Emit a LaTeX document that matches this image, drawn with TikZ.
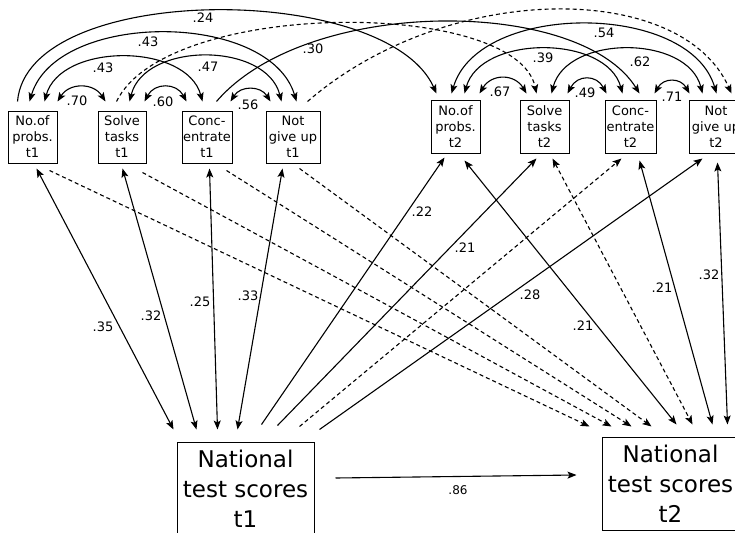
\documentclass[tikz,border=0pt]{standalone}
\usepackage{fontspec}
\setmainfont{DejaVu Sans}
\usetikzlibrary{arrows.meta,calc}
\begin{document}
\begin{tikzpicture}[x=1pt,y=-1pt,
  tbox/.style={draw,line width=1pt,minimum height=52pt,inner sep=1pt,align=center,font=\fontsize{13}{16}\selectfont},
  bbox/.style={draw,line width=1pt,minimum height=93pt,minimum width=137pt,inner sep=2pt,align=center,font=\fontsize{23}{30}\selectfont},
  lbl/.style={inner sep=0pt,font=\fontsize{13}{15}\selectfont},
  con/.style={line width=1.1pt},
  dsh/.style={line width=1.1pt,dash pattern=on 4pt off 3pt},
  >={Stealth[length=9pt,width=7pt,inset=2pt]},
]
\useasboundingbox (0,0) rectangle (735,532);
\clip (0,0) rectangle (735,532);

% indicator boxes
\node[tbox,minimum width=49pt] (A1) at (32.5,137) {No.of\\probs.\\t1};
\node[tbox,minimum width=48pt] (B1) at (122,137) {Solve\\tasks\\t1};
\node[tbox,minimum width=50pt] (C1) at (207,137) {Conc-\\entrate\\t1};
\node[tbox,minimum width=54pt] (D1) at (293,137) {Not\\give up\\t1};
\node[tbox,minimum width=49pt] (A2) at (455.5,127) {No.of\\probs.\\t2};
\node[tbox,minimum width=49pt] (B2) at (544.5,127) {Solve\\tasks\\t2};
\node[tbox,minimum width=51pt] (C2) at (630.5,127) {Conc-\\entrate\\t2};
\node[tbox,minimum width=54pt] (D2) at (716,127) {Not\\give up\\t2};
% national test boxes
\node[bbox] (N1) at (245.5,488.5) {National\\test scores\\t1};
\node[bbox] (N2) at (670.5,483.5) {National\\test scores\\t2};

% t1 correlations
\draw[con,<->] ($(A1.north west)+(50,-9)$) .. controls +(12,-19) and +(-12,-19) .. ($(B1.north west)+(8,-9)$);
\draw[con,<->] ($(B1.north west)+(47,-9)$) .. controls +(10,-19) and +(-10,-19) .. ($(C1.north west)+(5,-9)$);
\draw[con,<->] ($(C1.north west)+(49,-9)$) .. controls +(10,-16) and +(-10,-16) .. ($(D1.north west)+(5,-9)$);
\draw[con,<->] ($(A1.north west)+(37,-9)$) .. controls +(16,-59) and +(-16,-59) .. ($(C1.north west)+(21,-9)$);
\draw[con,<->] ($(B1.north west)+(32,-9)$) .. controls +(15,-60) and +(-15,-60) .. ($(D1.north west)+(16,-9)$);
\draw[con,<->] ($(A1.north west)+(22,-9)$) .. controls +(27,-91) and +(-27,-91) .. ($(D1.north west)+(31,-9)$);
% t2 correlations
\draw[con,<->] ($(A2.north west)+(49,-7)$) .. controls +(12,-20) and +(-12,-20) .. ($(B2.north west)+(7,-7)$);
\draw[con,<->] ($(B2.north west)+(48,-7)$) .. controls +(10,-19) and +(-10,-19) .. ($(C2.north west)+(2,-7)$);
\draw[con,<->] ($(C2.north west)+(50,-7)$) .. controls +(9,-16) and +(-9,-16) .. ($(D2.north west)+(1,-7)$);
\draw[con,<->] ($(A2.north west)+(34,-7)$) .. controls +(16,-59) and +(-16,-59) .. ($(C2.north west)+(18,-7)$);
\draw[con,<->] ($(B2.north west)+(32,-7)$) .. controls +(15,-59) and +(-15,-59) .. ($(D2.north west)+(14,-7)$);
\draw[con,<->] ($(A2.north west)+(21,-7)$) .. controls +(27,-92) and +(-27,-92) .. ($(D2.north west)+(28,-7)$);
% autoregressive paths
\draw[con,->] ($(A1.north west)+(10,-9)$) .. controls +(10,-120) and +(-50,-112) .. ($(A2.north west)+(6,-7)$);
\draw[con,->] ($(C1.north west)+(35,-9)$) .. controls +(90,-105) and +(-60,-97) .. ($(C2.north west)+(35,-7)$);
\draw[dsh,->] ($(B1.north west)+(19,-9)$) .. controls +(50,-103) and +(-20,-95) .. ($(B2.north west)+(17,-7)$);
\draw[dsh,->] ($(D1.north west)+(42,-9)$) .. controls +(140,-121) and +(-50,-113) .. ($(D2.north west)+(43,-7)$);

% t1 indicators <-> national t1
\draw[con,<->] ($(A1.south west)+(29,5)$) -- ($(N1.north west)+(-3,-12)$);
\draw[con,<->] ($(B1.south west)+(25,5)$) -- ($(N1.north west)+(20,-12)$);
\draw[con,<->] ($(C1.south west)+(28,5)$) -- ($(N1.north west)+(41,-12)$);
\draw[con,<->] ($(D1.south west)+(17,5)$) -- ($(N1.north west)+(61,-12)$);
% national t1 -> t2 indicators
\draw[con,->] ($(N1.north west)+(85,-17)$) -- ($(A2.south west)+(14,4)$);
\draw[con,->] ($(N1.north west)+(101,-16)$) -- ($(B2.south west)+(17,5)$);
\draw[dsh,->] ($(N1.north west)+(123,-15)$) -- ($(C2.south west)+(17,5)$);
\draw[con,->] ($(N1.north west)+(143,-12)$) -- ($(D2.south west)+(14,5)$);
% t1 indicators -> national t2
\draw[dsh,->] ($(A1.south west)+(42,7)$) -- ($(N2.north west)+(-12,-10)$);
\draw[dsh,->] ($(B1.south west)+(45,9)$) -- ($(N2.north west)+(10,-10)$);
\draw[dsh,->] ($(C1.south west)+(45,7)$) -- ($(N2.north west)+(30,-10)$);
\draw[dsh,->] ($(D1.south west)+(34,5)$) -- ($(N2.north west)+(50,-10)$);
% t2 indicators <-> national t2
\draw[con,<->] ($(A2.south west)+(34,7)$) -- ($(N2.north west)+(75,-12)$);
\draw[dsh,<->] ($(B2.south west)+(33,5)$) -- ($(N2.north west)+(91,-12)$);
\draw[con,<->] ($(C2.south west)+(35,7)$) -- ($(N2.north west)+(111,-12)$);
\draw[con,<->] ($(D2.south west)+(29,9)$) -- ($(N2.north west)+(126,-12)$);
% stability
\draw[con,->] ($(N1.east)+(21,-10.5)$) -- ($(N2.west)+(-25,-8.5)$);

% labels
\node[lbl] (l24) at (203,18) {.24};
\node[lbl] (l43o) at (148,42) {.43};
\node[lbl] (l43i) at (103,68) {.43};
\node[lbl] (l47) at (208,67) {.47};
\node[lbl] (l30) at (313,49) {.30};
\node[lbl] (l70) at (77,101) {.70};
\node[lbl] (l60) at (163,102) {.60};
\node[lbl] (l56) at (248,105) {.56};
\node[lbl] (l54) at (604,33) {.54};
\node[lbl] (l39) at (543,58) {.39};
\node[lbl] (l62) at (640,62) {.62};
\node[lbl] (l67) at (500,92) {.67};
\node[lbl] (l49) at (585,93) {.49};
\node[lbl] (l71) at (672,97) {.71};
\node[lbl] (l35) at (103,327) {.35};
\node[lbl] (l32a) at (151,316) {.32};
\node[lbl] (l25) at (200,302) {.25};
\node[lbl] (l33) at (248,296) {.33};
\node[lbl] (l22) at (422,212) {.22};
\node[lbl] (l21a) at (465,248) {.21};
\node[lbl] (l28) at (530,295) {.28};
\node[lbl] (l21b) at (583,326) {.21};
\node[lbl] (l21c) at (662,288) {.21};
\node[lbl] (l32b) at (709,275) {.32};
\node[lbl,font=\fontsize{12}{14}\selectfont] (l86) at (458,490) {.86};
\end{tikzpicture}
\end{document}
